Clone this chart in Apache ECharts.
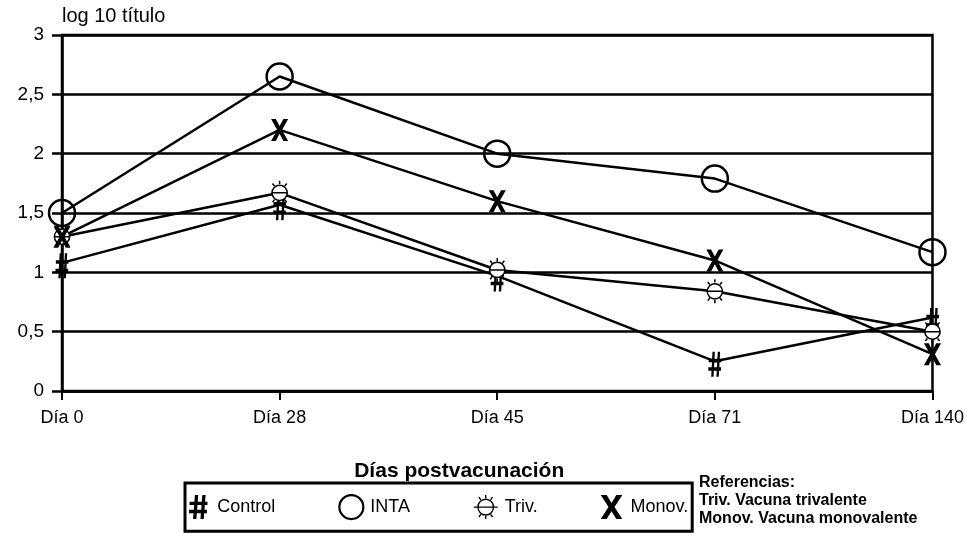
<!DOCTYPE html>
<html>
<head>
<meta charset="utf-8">
<script src="https://cdn.jsdelivr.net/npm/echarts@6/dist/echarts.min.js"></script>
<style>
html, body { margin: 0; padding: 0; background: #fff; }
#chart { width: 967px; height: 534px; }
</style>
</head>
<body>
<div id="chart"></div>
<script>
//*************** data ***************
var dias = ['Día 0', 'Día 28', 'Día 45', 'Día 71', 'Día 140'];
var control = [1.08, 1.57, 0.97, 0.25, 0.62];
var inta = [1.5, 2.65, 2.0, 1.79, 1.17];
var triv = [1.3, 1.67, 1.02, 0.84, 0.5];
var monov = [1.3, 2.2, 1.6, 1.1, 0.31];
var referencias = ['Referencias:', 'Triv. Vacuna trivalente', 'Monov. Vacuna monovalente'];

//*************** symbols ***************
var sym_hash = 'path://M3.2 0 L5 0 L4 13 L2.2 13 Z M7.2 0 L9 0 L8 13 L6.2 13 Z M0.3 3.6 L10 3.6 L10 5.4 L0.3 5.4 Z M0 8 L9.7 8 L9.7 9.8 L0 9.8 Z';
var sym_x = 'path://M0 0 L5 0 L9 6.5 L13 0 L18 0 L11.5 10 L18 20 L13 20 L9 13.5 L5 20 L0 20 L6.5 10 Z';
var sym_sun = 'path://M5 12 A7 7 0 1 1 19 12 A7 7 0 1 1 5 12 Z M5 12 L19 12 M12 1 L12 4 M5.5 3.5 L7.3 5.8 M18.5 3.5 L16.7 5.8 M12 20 L12 23 M5.5 20.5 L7.3 18.2 M18.5 20.5 L16.7 18.2';
var sym_sun_legend = 'path://M5 12.5 A7.5 7.5 0 1 1 20 12.5 A7.5 7.5 0 1 1 5 12.5 Z M1 12.5 L24 12.5 M12.5 1 L12.5 4 M6 3 L7.8 5.5 M19 3 L17.2 5.5 M12.5 21 L12.5 24 M6 22 L7.8 19.5 M19 22 L17.2 19.5';

var font = '"Liberation Sans", Arial, sans-serif';

var chart = echarts.init(document.getElementById('chart'));

function serie(name, data, symbol, size, itemStyle, offset) {
    return {
        name: name,
        type: 'line',
        data: data,
        symbol: symbol,
        symbolSize: size,
        symbolKeepAspect: true,
        symbolOffset: offset || [0, 0],
        showAllSymbol: true,
        lineStyle: { color: '#000', width: 2.5 },
        itemStyle: itemStyle,
        emphasis: { disabled: true },
        z: 3
    };
}

var option = {
    animation: false,
    backgroundColor: '#fff',
    textStyle: { fontFamily: font, color: '#000' },
    grid: {
        left: 62, right: 34, top: 35, bottom: 143,
        show: true, borderColor: '#000', borderWidth: 2.5
    },
    xAxis: {
        type: 'category',
        data: dias,
        boundaryGap: false,
        name: 'Días postvacunación',
        nameLocation: 'middle',
        nameGap: 70,
        nameTextStyle: { fontSize: 21, fontWeight: 'bold', color: '#000', fontFamily: font, padding: [0, 76, 0, 0] },
        axisLine: { lineStyle: { color: '#000', width: 2.5 } },
        axisTick: { show: true, length: 9, lineStyle: { color: '#000', width: 2 } },
        axisLabel: { fontSize: 18, color: '#000', margin: 18, fontFamily: font },
        splitLine: { show: false }
    },
    yAxis: {
        type: 'value',
        min: 0, max: 3, interval: 0.5,
        name: 'log 10 título',
        nameLocation: 'end',
        nameGap: 9,
        nameTextStyle: { fontSize: 20, color: '#000', align: 'left', fontFamily: font },
        axisLine: { show: true, lineStyle: { color: '#000', width: 2.5 } },
        axisTick: { show: true, length: 10, lineStyle: { color: '#000', width: 2.5 } },
        axisLabel: {
            fontSize: 19, color: '#000', margin: 18, fontFamily: font,
            formatter: function (v) { return String(v).replace('.', ','); }
        },
        splitLine: { show: true, lineStyle: { color: '#000', width: 2.5 } }
    },
    legend: {
        left: 185, top: 483,
        orient: 'horizontal',
        itemWidth: 28, itemHeight: 24,
        itemGap: 63,
        padding: [11, 4, 11, 4],
        borderColor: '#000', borderWidth: 3,
        selectedMode: false,
        textStyle: { fontSize: 18, color: '#000', fontFamily: font },
        data: [
            { name: 'Control', icon: sym_hash, itemStyle: { color: '#000', borderWidth: 0 } },
            { name: 'INTA', icon: 'circle', itemStyle: { color: 'transparent', borderColor: '#000', borderWidth: 2.2 } },
            { name: 'Triv.', icon: sym_sun_legend, itemStyle: { color: '#fff', borderColor: '#000', borderWidth: 1.4 } },
            { name: 'Monov.', icon: sym_x, itemStyle: { color: '#000', borderWidth: 0 } }
        ]
    },
    graphic: [{
        type: 'text',
        left: 699, top: 474,
        style: {
            text: referencias.join('\n'),
            font: 'bold 16px ' + font,
            lineHeight: 18,
            fill: '#000'
        }
    }],
    series: [
        serie('Control', control, sym_hash, [17, 25], { color: '#000', borderWidth: 0 }, [0, 3]),
        serie('INTA', inta, 'circle', 26, { color: 'transparent', borderColor: '#000', borderWidth: 2.5 }),
        serie('Triv.', triv, sym_sun, 24, { color: '#fff', borderColor: '#000', borderWidth: 1.5 }),
        serie('Monov.', monov, sym_x, [19, 22], { color: '#000', borderWidth: 0 })
    ]
};

chart.setOption(option);
</script>
</body>
</html>
